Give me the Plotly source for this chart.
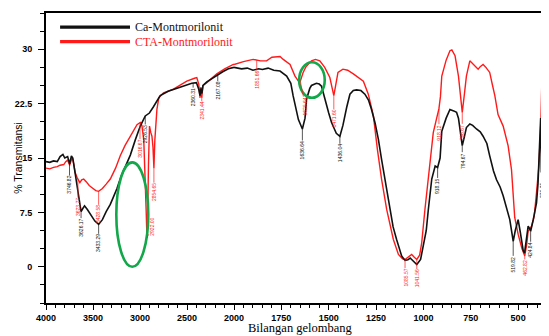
import numpy as np
import plotly.graph_objects as go

# ---------------- data ----------------
ca_wn = [4000, 3960, 3920, 3880, 3850, 3820, 3800, 3770, 3748, 3730, 3715, 3690, 3669, 3645, 3627, 3610,
         3590, 3560, 3520, 3480, 3440, 3400, 3360, 3316, 3280, 3245, 3200, 3150, 3103, 3050, 2997, 2944,
         2900, 2860, 2785, 2700, 2573, 2500, 2449, 2400, 2375, 2362, 2352, 2342, 2330, 2289, 2230, 2183,
         2120, 2060, 2010, 2000, 1960, 1930, 1900, 1870, 1850, 1820, 1790, 1757, 1722, 1700, 1688, 1660,
         1639, 1625, 1617, 1600, 1591, 1565, 1550, 1538, 1521, 1500, 1485, 1460, 1441, 1425, 1405, 1388,
         1370, 1353, 1330, 1309, 1290, 1274, 1255, 1238, 1221, 1203, 1177, 1160, 1142, 1115, 1097, 1082,
         1070, 1055, 1035, 1015, 1000, 985, 974, 956, 938, 925, 912, 903, 880, 860, 840, 825, 815, 807,
         795, 785, 773, 755, 740, 720, 700, 685, 665, 650, 630, 614, 595, 579, 560, 544, 530, 526, 515,
         500, 490, 473, 466, 455, 447, 438, 434, 420, 403, 395, 390, 385, 381, 377, 372, 365, 358, 355,
         345, 337]
ca_t = [14.5, 14.4, 14.6, 14.5, 15.2, 15.5, 15.0, 15.2, 14.2, 15.3, 15.0, 13.0, 11.1, 8.8, 7.6, 8.0,
        8.4, 7.9, 7.0, 6.3, 5.85, 6.5, 7.6, 8.6, 9.7, 10.8, 12.5, 14.0, 15.4, 17.5, 19.4, 20.8,
        21.2, 22.0, 23.6, 24.2, 24.8, 25.1, 25.3, 25.4, 24.5, 23.6, 24.6, 23.9, 25.0, 25.5, 26.0, 26.4,
        26.9, 27.3, 27.5, 27.5, 27.3, 27.4, 27.1, 27.3, 27.2, 27.4, 27.1, 27.0, 26.3, 25.3, 23.6, 20.3,
        19.0, 20.5, 23.1, 24.6, 25.0, 25.3, 25.2, 24.9, 23.1, 21.2, 19.9, 18.4, 18.0, 19.5, 22.0, 23.8,
        24.3, 24.4, 24.3, 23.8, 23.0, 21.7, 19.8, 17.6, 14.8, 12.1, 7.9, 5.5, 3.8, 1.5, 0.87, 0.95,
        1.2, 0.8, 0.3, 1.0, 2.8, 5.0, 7.9, 12.1, 13.9, 13.7, 15.0, 18.7, 20.5, 21.7, 21.5, 21.3, 20.5, 19.0,
        16.7, 17.8, 19.2, 19.7, 19.5, 19.0, 18.6, 18.0, 17.0, 15.3, 13.2, 12.0, 11.0, 9.8, 8.0, 6.5, 4.2, 3.5, 5.0,
        6.5, 5.0, 2.2, 1.9, 3.8, 5.6, 5.2, 4.9, 6.5, 8.8, 11.5, 15.0, 20.0, 20.5, 13.0, 14.5, 20.0, 27.0, 29.8,
        30.3, 30.8]

cta_wn = [4000, 3960, 3920, 3880, 3850, 3811, 3790, 3770, 3748, 3722, 3705, 3690, 3669, 3640, 3620, 3599,
          3570, 3540, 3510, 3470, 3440, 3400, 3360, 3316, 3260, 3210, 3160, 3103, 3060, 3032, 2997, 2980,
          2960, 2945, 2935, 2926, 2918, 2910, 2899, 2885, 2873, 2862, 2852, 2842, 2830, 2820, 2800, 2750,
          2644, 2502, 2420, 2396, 2375, 2361, 2352, 2343, 2330, 2289, 2183, 2100, 2007, 2000, 1950, 1899,
          1860, 1828, 1800, 1757, 1740, 1704, 1678, 1660, 1650, 1635, 1620, 1591, 1570, 1547, 1521, 1494,
          1473, 1460, 1451, 1425, 1400, 1370, 1340, 1317, 1291, 1264, 1243, 1229, 1221, 1194, 1159, 1132,
          1110, 1097, 1080, 1062, 1048, 1035, 1020, 1009, 992, 974, 966, 948, 930, 918, 910, 903, 880, 860,
          850, 833, 815, 805, 795, 785, 773, 755, 738, 711, 700, 685, 670, 650, 635, 623, 606, 590, 579,
          553, 535, 518, 500, 480, 465, 455, 447, 429, 415, 403, 390, 380, 372, 365, 337]
cta_t = [13.6, 13.5, 13.7, 13.8, 14.0, 14.1, 14.5, 14.7, 14.0, 15.1, 14.2, 13.0, 12.3, 11.6, 12.0, 12.1,
         11.7, 11.2, 10.9, 10.5, 10.4, 10.8, 11.4, 12.1, 13.6, 15.3, 16.7, 18.0, 19.0, 19.6, 19.9, 19.5,
         17.5, 13.0, 8.0, 4.0, 7.0, 14.0, 19.4, 18.5, 18.0, 16.5, 13.6, 17.5, 20.5, 21.7, 23.3, 24.0,
         24.5, 25.6, 26.0, 26.1, 25.2, 23.3, 24.8, 23.3, 25.0, 25.4, 26.6, 27.3, 27.9, 27.9, 28.3, 28.6,
         28.4, 28.4, 28.9, 29.0, 28.6, 27.9, 26.3, 25.6, 25.6, 26.8, 27.6, 28.4, 28.6, 28.4, 27.5, 26.1,
         23.6, 25.5, 26.8, 27.25, 27.1, 26.6, 26.1, 25.6, 23.8, 20.8, 16.2, 13.4, 12.1, 7.9, 3.8, 1.7,
         1.1, 1.0, 1.3, 1.7, 1.3, 1.0, 1.6, 3.3, 7.9, 12.5, 14.8, 18.5, 20.5, 21.8, 23.5, 26.3, 28.5, 29.8,
         29.9, 29.1, 26.3, 24.0, 21.3, 23.5, 26.3, 28.4, 27.9, 27.25, 27.6, 27.9, 27.5, 26.8, 25.0, 23.6, 21.0, 20.0, 19.4,
         16.7, 13.4, 6.8, 4.5, 2.5, 1.5, 3.0, 4.9, 5.6, 7.0, 10.2, 14.0, 20.0, 28.0, 36.0, 36.0]

x_ticks_left = [4000, 3500, 3000, 2500]
x_ticks_right = [2000, 1750, 1500, 1250, 1000, 750, 500]
y_ticks = [0, 7.5, 15, 22.5, 30]

ca_peak_text = ["3746.82", "3626.17", "3433.29", "2926.53", "2360.31", "2167.08", "1636.64",
                "1436.04", "918.15", "794.67", "519.82", "424.84", "375.35"]
ca_peak_wn = [3750, 3627, 3440, 2944, 2435, 2173, 1639, 1441, 925, 795, 526, 434, 377]
ca_peak_off = [22, 16, 19, 18, 14, 16, 21, 17, 19, 15, 23, 19, 17]

cta_peak_text = ["3623.77", "3428.58", "3016.67", "2922.00", "2854.65", "2341.44", "1851.66",
                 "1625.64", "1471.60", "1085.57", "1041.56", "918.12", "796.67", "462.82"]
cta_peak_wn = [3660, 3440, 3000, 2926, 2852, 2343, 1880, 1650, 1473, 1097, 1035, 918, 795, 465]
cta_peak_off = [28, 23, 26, -11, 24, 13, 20, 25, 23, 18, 19, 24, 20, 12]
cta_peak_dx = [0, 0, 0, 5, 0, 0, 0, 5, 0, 0, 0, 0, 0, 0]

# highlight ellipses: (wn_from, wn_to, t_from, t_to)
ellipse_1 = (3252, 2912, 0.0, 14.4)
ellipse_2 = (1656, 1521, 23.3, 28.2)

BLACK = "#111111"
RED = "#ff1a1a"
GREEN = "#12a84a"

# ---------------- figure ----------------
fig = go.Figure()


def add_series(wn, t, color, width):
    wn = np.array(wn, dtype=float)
    t = np.array(t, dtype=float)
    left = wn >= 2000
    right = wn <= 2000
    fig.add_trace(go.Scatter(x=wn[left], y=t[left], mode="lines", xaxis="x", yaxis="y",
                             line=dict(color=color, width=width), showlegend=False, hoverinfo="skip"))
    fig.add_trace(go.Scatter(x=wn[right], y=t[right], mode="lines", xaxis="x2", yaxis="y",
                             line=dict(color=color, width=width), showlegend=False, hoverinfo="skip"))


add_series(cta_wn, cta_t, RED, 1.4)
add_series(ca_wn, ca_t, BLACK, 1.6)


def add_labels(texts, wns, offs, dxs, wn_series, t_series, color):
    order = np.argsort(wn_series)
    xs = np.array(wn_series, dtype=float)[order]
    ys = np.array(t_series, dtype=float)[order]
    for txt, w, off, dx in zip(texts, wns, offs, dxs):
        yv = float(np.interp(w, xs, ys))
        fig.add_annotation(x=w, y=yv, xref="x" if w > 2000 else "x2", yref="y",
                           text=txt, textangle=-90, showarrow=True, arrowhead=0,
                           arrowwidth=0.7, arrowcolor=color, ax=dx, ay=off,
                           font=dict(family="Liberation Sans, Arial", size=5, color=color),
                           borderpad=0)


add_labels(ca_peak_text, ca_peak_wn, ca_peak_off, [0] * len(ca_peak_wn), ca_wn, ca_t, BLACK)
add_labels(cta_peak_text, cta_peak_wn, cta_peak_off, cta_peak_dx, cta_wn, cta_t, RED)

for (x0, x1, y0, y1), xr in [(ellipse_1, "x"), (ellipse_2, "x2")]:
    fig.add_shape(type="circle", xref=xr, yref="y", x0=x0, x1=x1, y0=y0, y1=y1,
                  line=dict(color=GREEN, width=2.6))

# legend (drawn manually)
legend_items = [("Ca-Montmorilonit", BLACK, 0.951), ("CTA-Montmorilonit", RED, 0.901)]
for name, color, yy in legend_items:
    fig.add_shape(type="line", xref="paper", yref="paper", x0=0.028, x1=0.167, y0=yy, y1=yy,
                  line=dict(color=color, width=3.2))
    fig.add_annotation(xref="paper", yref="paper", x=0.173, y=yy, text=name, showarrow=False,
                       xanchor="left", yanchor="middle",
                       font=dict(family="Liberation Serif, Times New Roman", size=12, color=color))

# axis titles
fig.add_annotation(xref="paper", yref="paper", x=-0.056, y=0.50, text="% Transmitansi",
                   textangle=-90, showarrow=False, xanchor="center", yanchor="middle",
                   font=dict(family="Liberation Sans, Arial", size=10.5, color="black"))
fig.add_annotation(xref="paper", yref="paper", x=0.505, y=-0.087, text="Bilangan gelombang",
                   showarrow=False, xanchor="center", yanchor="middle",
                   font=dict(family="Liberation Serif, Times New Roman", size=12.5, color="black"))
fig.add_annotation(xref="paper", yref="paper", x=0.982, y=-0.066, text="1/cm",
                   showarrow=False, xanchor="left", yanchor="middle",
                   font=dict(family="Liberation Sans, Arial", size=9, color="black", weight="bold"))

split = (234 - 46) / 503.0
tickfont = dict(family="Liberation Sans, Arial", size=9, color="black", weight="bold")
common_x = dict(showgrid=False, zeroline=False, showline=True, linecolor="black", linewidth=1.5,
                mirror=True, ticks="outside", ticklen=5, tickwidth=1, tickcolor="black",
                tickfont=tickfont, anchor="y", ticklabelstandoff=0)

# the page body adds an 8 px offset, so the figure is sized to fit the 549x336 window
fig.update_layout(
    width=541, height=328,
    margin=dict(l=38, r=0, t=5, b=33),
    paper_bgcolor="white", plot_bgcolor="white",
    xaxis=dict(domain=[0, split], range=[4000, 2000], tickmode="array", tickvals=x_ticks_left,
               ticktext=[str(v) for v in x_ticks_left],
               minor=dict(dtick=100, ticks="outside", ticklen=3, tickcolor="black", showgrid=False),
               **common_x),
    xaxis2=dict(domain=[split, 1], range=[2000, 337], tickmode="array", tickvals=x_ticks_right,
                ticktext=[str(v) for v in x_ticks_right],
                minor=dict(dtick=50, ticks="outside", ticklen=3, tickcolor="black", showgrid=False),
                **common_x),
    yaxis=dict(range=[-5, 35], tickmode="array", tickvals=y_ticks,
               ticktext=["0", "7.5", "15", "22.5", "30"], showgrid=False, zeroline=False,
               showline=True, linecolor="black", linewidth=2, ticks="outside", ticklen=6,
               tickcolor="black", tickfont=tickfont, anchor="x", ticklabelstandoff=4,
               minor=dict(dtick=2.5, ticks="outside", ticklen=4, tickcolor="black", showgrid=False)),
)

fig.write_html("out.html")
